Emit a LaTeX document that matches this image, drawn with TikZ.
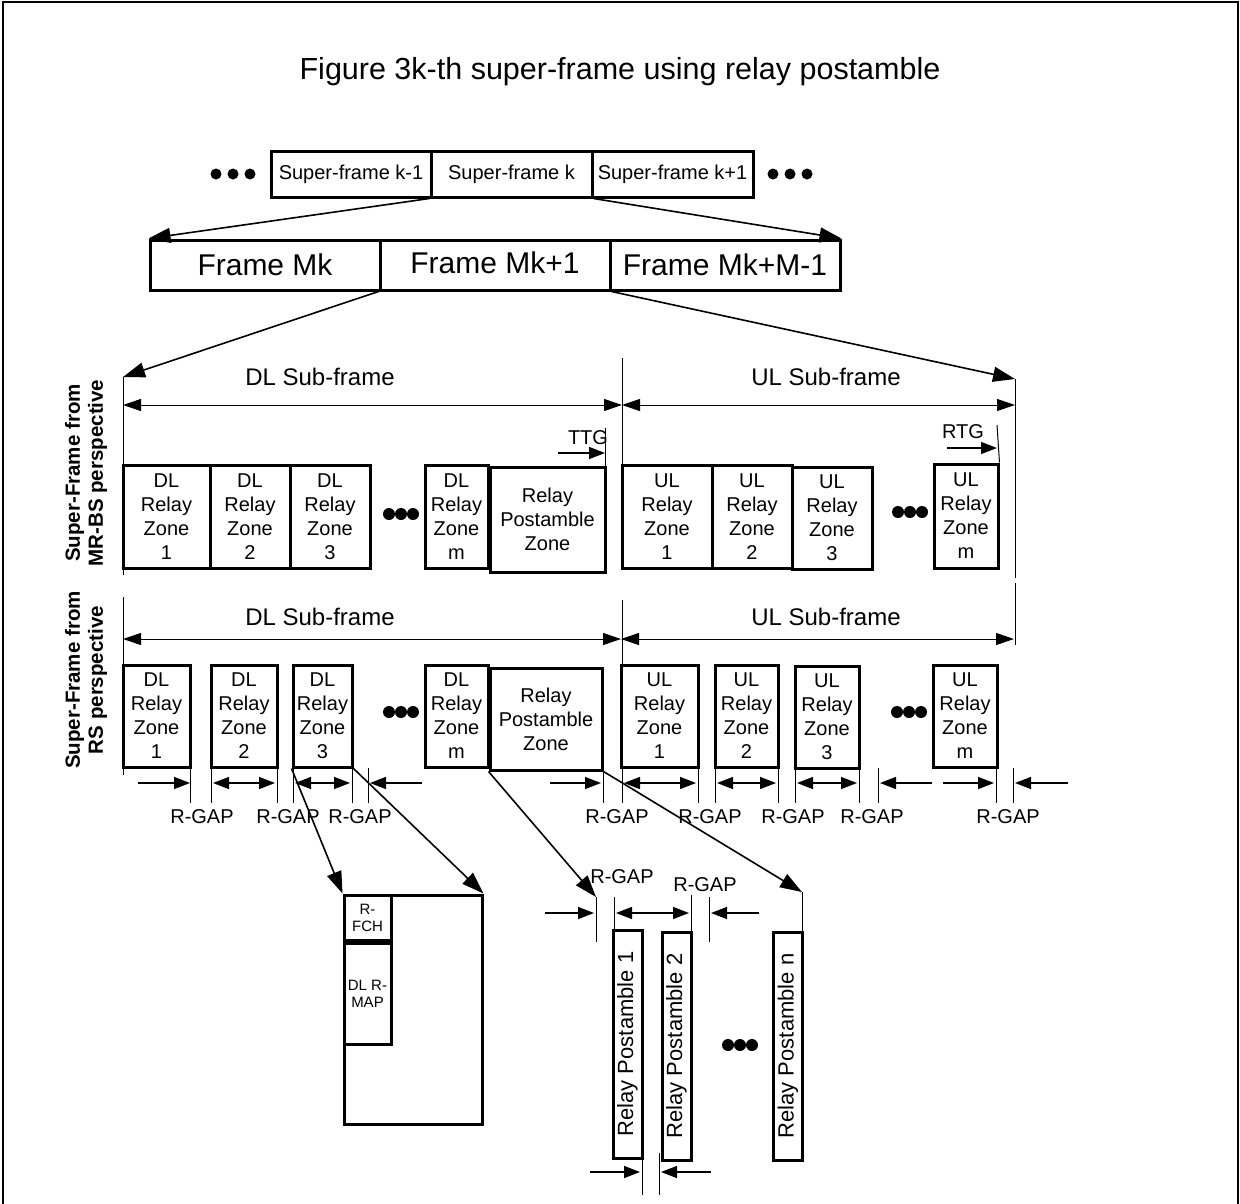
\documentclass[tikz,border=0pt]{standalone}
\usepackage{fontspec}
\setmainfont{Liberation Sans}
\usetikzlibrary{arrows.meta}
\newcommand\zf{\fontsize{20}{24}\selectfont}
\begin{document}
\begin{tikzpicture}[x=1pt,y=-1pt,
  box/.style={draw, line width=3pt, inner sep=0pt, align=center},
  zone/.style={box, font=\zf},
  thinl/.style={line width=1pt},
  gapr/.style={line width=1.5pt, -{Triangle[length=16pt,width=12pt]}},
  dgap/.style={line width=1.5pt, {Triangle[length=16pt,width=12pt]}-{Triangle[length=16pt,width=12pt]}},
  spanarr/.style={line width=1pt, {Triangle[length=18pt,width=12pt]}-{Triangle[length=18pt,width=12pt]}},
  zoomarr/.style={line width=1.6pt, -{Triangle[length=22pt,width=15pt]}},
  lbl/.style={inner sep=0pt, font=\zf},
  sublbl/.style={inner sep=0pt, font=\fontsize{24}{28}\selectfont},
  persp/.style={rotate=90, inner sep=0pt, align=center, font=\bfseries\fontsize{20.5}{23}\selectfont},
  dot/.style={fill=black, draw=none},
  rp/.style={draw, line width=3pt, inner sep=0pt, rotate=90, minimum width=228pt, minimum height=29pt, font=\fontsize{22}{26}\selectfont}
]
\useasboundingbox (0,0) rectangle (1240,1203);
% border
\draw[line width=2pt] (3,1210) -- (3,2) -- (1238,2) -- (1238,1210);

% title
\node[inner sep=0pt, font=\fontsize{30.5}{36}\selectfont] (title) at (620,72) {Figure 3k-th super-frame using relay postamble};

% super-frames
\node[box, font=\zf, minimum width=160pt, minimum height=46pt] (sf1) at (351,174) {Super-frame k-1};
\node[box, font=\zf, minimum width=161pt, minimum height=46pt] (sf2) at (511.5,174) {Super-frame k};
\node[box, font=\zf, minimum width=161pt, minimum height=46pt] (sf3) at (672.5,174) {Super-frame k+1};
\foreach \x in {216,233,250}{\fill[dot] (\x,174) circle (5.5);}
\foreach \x in {773,790,807}{\fill[dot] (\x,174) circle (5.5);}

% frames
\node[box, font=\fontsize{30}{36}\selectfont, minimum width=230pt, minimum height=50pt] (fr1) at (265,265) {Frame Mk};
\node[box, font=\fontsize{30}{36}\selectfont, minimum width=230pt, minimum height=50pt] (fr2) at (495,265) {\raisebox{4pt}{Frame Mk+1}};
\node[box, font=\fontsize{30}{36}\selectfont, minimum width=230pt, minimum height=50pt] (fr3) at (725,265) {Frame Mk+M-1};
\draw[zoomarr] (sf2.south west) -- (fr1.north west);
\draw[zoomarr] (sf2.south east) -- (fr3.north east);

% ---------- Row 1: MR-BS ----------
\coordinate (L1t) at (123,377);
\coordinate (L1b) at (123,575);
\coordinate (M1t) at (622,358);
\coordinate (M1b) at (622,570);
\coordinate (R1t) at (1015,379);
\coordinate (R1b) at (1015,578);
\draw[zoomarr] (fr2.south west) -- (L1t);
\draw[zoomarr] (fr2.south east) -- (R1t);
\draw[thinl] (L1t) -- (L1b);
\draw[thinl] (M1t) -- (M1b);
\draw[thinl] (R1t) -- (R1b);
\coordinate (s1a) at (123,405); \coordinate (s1b) at (622,405); \coordinate (s1c) at (1015,405);
\draw[spanarr] (s1a) -- (s1b);
\draw[spanarr] (s1b) -- (s1c);
\node[sublbl] (dl1) at (320,377) {DL Sub-frame};
\node[sublbl] (ul1) at (826,377) {UL Sub-frame};
\node[persp] (p1) at (86,473) {Super-Frame from\\MR-BS perspective};

\node[zone, minimum width=87pt, minimum height=103pt] (d1) at (166.5,516.5) {DL\\Relay\\Zone\\1};
\node[zone, minimum width=80pt, minimum height=103pt] (d2) at (250,516.5) {DL\\Relay\\Zone\\2};
\node[zone, minimum width=80pt, minimum height=103pt] (d3) at (330,516.5) {DL\\Relay\\Zone\\3};
\foreach \x in {389,401,413}{\fill[dot] (\x,514) circle (6);}
\node[zone, minimum width=63pt, minimum height=103pt] (dm) at (456.5,516.5) {DL\\Relay\\Zone\\m};
\node[zone, minimum width=115pt, minimum height=105pt] (pz) at (547.5,519.5) {Relay\\Postamble\\Zone};
\node[zone, minimum width=90pt, minimum height=103pt] (u1) at (667,516.5) {UL\\Relay\\Zone\\1};
\node[zone, minimum width=80pt, minimum height=103pt] (u2) at (752,516.5) {UL\\Relay\\Zone\\2};
\node[zone, minimum width=80pt, minimum height=102pt] (u3) at (832,518) {UL\\Relay\\Zone\\3};
\foreach \x in {898,910,922}{\fill[dot] (\x,512) circle (6);}
\node[zone, minimum width=64pt, minimum height=104pt] (um) at (966,516) {UL\\Relay\\Zone\\m};

% TTG / RTG
\node[lbl] (ttg) at (588,438) {TTG};
\coordinate (ttga) at (558,453); \coordinate (ttgb) at (605,453);
\draw[gapr] (ttga) -- (ttgb);
\coordinate (ttgt) at (605,428); \coordinate (ttgu) at (605,570);
\draw[thinl] (ttgt) -- (ttgu);
\node[lbl] (rtg) at (963,432) {RTG};
\coordinate (rtga) at (947,448); \coordinate (rtgb) at (997,448);
\draw[gapr] (rtga) -- (rtgb);
\coordinate (rtgt) at (997,425);
\draw[thinl] (rtgt) -- (um.north east);

% ---------- Row 2: RS ----------
\coordinate (L2t) at (123,597);
\coordinate (L2b) at (123,775);
\coordinate (M2t) at (622,600);
\coordinate (M2b) at (622,803);
\coordinate (R2t) at (1015,583);
\coordinate (R2b) at (1015,645);
\draw[thinl] (L2t) -- (L2b);
\draw[thinl] (M2t) -- (M2b);
\draw[thinl] (R2t) -- (R2b);
\coordinate (s2a) at (123,639); \coordinate (s2b) at (621,639); \coordinate (s2c) at (1014,639);
\draw[spanarr] (s2a) -- (s2b);
\draw[spanarr] (s2b) -- (s2c);
\node[sublbl] (dl2) at (320,617) {DL Sub-frame};
\node[sublbl] (ul2) at (826,617) {UL Sub-frame};
\node[persp] (p2) at (86,680) {Super-Frame from\\RS perspective};

\node[zone, minimum width=67pt, minimum height=102pt] (e1) at (156.5,716) {DL\\Relay\\Zone\\1};
\node[zone, minimum width=66pt, minimum height=102pt] (e2) at (244,716) {DL\\Relay\\Zone\\2};
\node[zone, minimum width=59pt, minimum height=102pt] (e3) at (322.5,716) {DL\\Relay\\Zone\\3};
\foreach \x in {389,401,413}{\fill[dot] (\x,712) circle (6);}
\node[zone, minimum width=63pt, minimum height=102pt] (em) at (456.5,716) {DL\\Relay\\Zone\\m};
\node[zone, minimum width=112pt, minimum height=102pt] (pz2) at (546,719) {Relay\\Postamble\\Zone};
\node[zone, minimum width=77pt, minimum height=102pt] (v1) at (659.5,716) {UL\\Relay\\Zone\\1};
\node[zone, minimum width=63pt, minimum height=102pt] (v2) at (746.5,716) {UL\\Relay\\Zone\\2};
\node[zone, minimum width=64pt, minimum height=102pt] (v3) at (827,717) {UL\\Relay\\Zone\\3};
\foreach \x in {897,909,921}{\fill[dot] (\x,712) circle (6);}
\node[zone, minimum width=64pt, minimum height=102pt] (vm) at (965,716) {UL\\Relay\\Zone\\m};

% R-GAP markers row 2
\foreach \x in {190,211,277,293,352,603,698,715,778,795,859,996}{\draw[thinl] (\x,762) -- (\x,803);}
\foreach \x in {368,878,1013}{\draw[thinl] (\x,768) -- (\x,803);}
\draw[gapr] (138,783) -- (190,783);
\draw[dgap] (213,783) -- (275,783);
\draw[dgap] (295,783) -- (350,783);
\draw[gapr] (422,783) -- (370,783);
\draw[gapr] (550,783) -- (601,783);
\draw[dgap] (624,783) -- (696,783);
\draw[dgap] (717,783) -- (776,783);
\draw[dgap] (797,783) -- (857,783);
\draw[gapr] (932,783) -- (880,783);
\draw[gapr] (943,783) -- (994,783);
\draw[gapr] (1068,783) -- (1015,783);
\foreach \x/\n in {202/g1,288/g2,360/g3,617/g4,710/g5,793/g6,872/g7,1008/g8}{\node[lbl] (\n) at (\x,817) {R-GAP};}

% ---------- Zoom of DL relay zone 3 ----------
\node[box, minimum width=138pt, minimum height=229pt] (bb) at (413,1009.5) {};
\node[box, font=\fontsize{15}{17}\selectfont, minimum width=47pt, minimum height=45pt] (rfch) at (367.5,917.5) {R-\\FCH};
\node[box, font=\fontsize{15}{17}\selectfont, minimum width=47pt, minimum height=101pt] (rmap) at (367.5,993.5) {DL R-\\MAP};
\draw[zoomarr] (e3.south west) -- (bb.north west);
\draw[zoomarr] (e3.south east) -- (bb.north east);

% ---------- Zoom of relay postamble zone ----------
\node[rp] (rp1) at (627.5,1044) {Relay Postamble 1};
\node[rp] (rp2) at (676.5,1046) {Relay Postamble 2};
\node[rp] (rpn) at (788,1046) {Relay Postamble n};
\foreach \x in {728,740,752}{\fill[dot] (\x,1045) circle (6);}
\coordinate (pt1) at (596,897);
\coordinate (pt2) at (802,892);
\draw[zoomarr] (pz2.south west) -- (pt1);
\draw[zoomarr] (pz2.south east) -- (pt2);
\draw[thinl] (pt1) -- (596,942);
\draw[thinl] (614,897) -- (614,931);
\draw[thinl] (691,895) -- (691,933);
\draw[thinl] (709,897) -- (709,942);
\draw[thinl] (pt2) -- (802,933);
\draw[gapr] (545,913) -- (594,913);
\draw[dgap] (616,913) -- (689,913);
\draw[gapr] (759,913) -- (711,913);
\node[lbl] (g9) at (622,877) {R-GAP};
\node[lbl] (g10) at (705,885) {R-GAP};
\draw[thinl] (642,1158) -- (642,1195);
\draw[thinl] (659,1153) -- (659,1195);
\draw[gapr] (590,1172) -- (640,1172);
\draw[gapr] (711,1172) -- (661,1172);
\end{tikzpicture}
\end{document}
